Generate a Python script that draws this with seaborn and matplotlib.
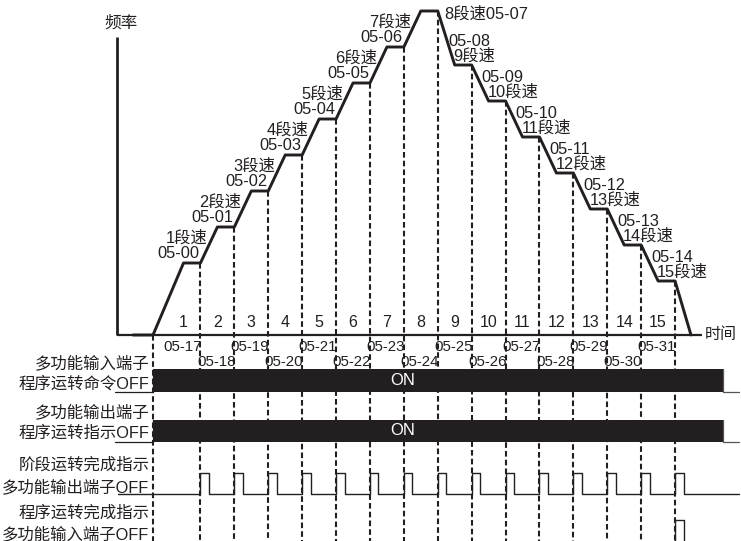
import numpy as np
import pandas as pd
import matplotlib
matplotlib.use("Agg")
import matplotlib.pyplot as plt
import seaborn as sns

sns.set_theme(style="white")
plt.rcParams['font.family'] = ['Liberation Sans', 'Noto Sans CJK SC', 'DejaVu Sans']

# ---------------- data ----------------
segments = list(range(1, 16))
seg_duration = [1.4] + [1.0] * 14          # duration of each speed segment
step_freq = [2, 3, 4, 5, 6, 7, 8, 9, 7.5, 6.5, 5.5, 4.5, 3.5, 2.5, 1.5]
hold_time = 0.5                             # constant-speed part of each segment
curve_start = -0.59
curve_stop = 15.87
freq_params = ['05-%02d' % i for i in range(0, 15)]
time_params = ['05-%02d' % i for i in range(17, 32)]
speed_labels = ['%d段速' % k for k in segments]
run_end = 16.8                              # end of program run command / indication
pulse_width = 0.25
row_labels = [('多功能输入端子', '程序运转命令OFF'),
              ('多功能输出端子', '程序运转指示OFF'),
              ('阶段运转完成指示', '多功能输出端子OFF'),
              ('程序运转完成指示', '多功能输入端子OFF')]

# ---------------- derived ----------------
bounds = np.concatenate([[0.0], np.cumsum(seg_duration)])
cx = [curve_start, 0.0]
cy = [0.0, 0.0]
for k in range(15):
    cx += [bounds[k + 1] - hold_time, bounds[k + 1]]
    cy += [step_freq[k], step_freq[k]]
cx.append(curve_stop)
cy.append(0.0)
curve = pd.DataFrame({'t': cx, 'f': cy})

INK = '#231f20'
PX_X, PX_Y = 33.9, 36.0
fig = plt.figure(figsize=(7.41, 5.41), dpi=100)
ax = fig.add_axes([0, 0, 1, 1])
xmin, xmax = -153 / PX_X, (741 - 153) / PX_X
ymin, ymax = (335 - 541) / PX_Y, 335 / PX_Y
ax.set_xlim(xmin, xmax)
ax.set_ylim(ymin, ymax)
ax.axis('off')

# axes of the frequency chart
ax.plot([-1.06, -1.06], [0, 8.28], color=INK, lw=2.0, solid_capstyle='butt')
ax.plot([-1.06, 16.19], [0, 0], color=INK, lw=1.6, solid_capstyle='butt')
ax.text(-0.95, 8.67, '频率', ha='center', va='center', fontsize=12, color=INK)
ax.text(16.28, 0.0, '时间', ha='left', va='center', fontsize=11.5, color=INK)

# frequency curve
sns.lineplot(data=curve, x='t', y='f', sort=False, estimator=None, color=INK,
             linewidth=2.1, ax=ax, legend=False)

# dashed guides
levels = [0.0] + step_freq
for b, lv in zip(bounds, levels):
    ax.plot([b, b], [lv, ymin], color=INK, lw=1.5, linestyle=(0, (2.7, 1.5)), zorder=1)

# segment numbers and time parameters
for k in range(15):
    ax.text(bounds[k + 1] - 0.5, 0.36, str(segments[k]), ha='center', va='center',
            fontsize=11.5, color=INK)
    yy = -0.333 if k % 2 == 0 else -0.75
    ax.text(bounds[k + 1] + 0.03, yy, time_params[k], ha='right', va='center',
            fontsize=10.8, color=INK)

# speed labels
for k in range(15):
    lv = step_freq[k]
    if k < 7:
        ax.text(bounds[k + 1] - 0.03, lv + 0.25, freq_params[k], ha='right', va='center',
                fontsize=11.8, color=INK)
        ax.text(bounds[k + 1] + 0.2, lv + 0.69, speed_labels[k], ha='right', va='center',
                fontsize=11.8, color=INK)
    elif k == 7:
        ax.text(bounds[k + 1] + 0.2, lv - 0.08, speed_labels[k] + freq_params[k],
                ha='left', va='center', fontsize=11.8, color=INK)
    else:
        ax.text(bounds[k] + 0.3, lv + 0.64, freq_params[k], ha='left', va='center',
                fontsize=11.8, color=INK)
        ax.text(bounds[k] + 0.47, lv + 0.25, speed_labels[k], ha='left', va='center',
                fontsize=11.8, color=INK)

# timing rows
row_low = [(335 - 391.5) / PX_Y, (335 - 441.5) / PX_Y, (335 - 494) / PX_Y, (335 - 546) / PX_Y]
row_high = [(335 - 369) / PX_Y, (335 - 420) / PX_Y, (335 - 472.5) / PX_Y, (335 - 519.5) / PX_Y]
lab1_y = [(335 - 363) / PX_Y, (335 - 412) / PX_Y, (335 - 465) / PX_Y, (335 - 513) / PX_Y]
lab2_y = [(335 - 384) / PX_Y, (335 - 433) / PX_Y, (335 - 487) / PX_Y, (335 - 534) / PX_Y]
line_start = [-1.12, -1.12, -1.03]
line_end = 17.29

for r in range(4):
    ax.text(-0.1, lab1_y[r], row_labels[r][0], ha='right', va='center', fontsize=11.8, color=INK)
    ax.text(-0.12, lab2_y[r], row_labels[r][1], ha='right', va='center', fontsize=11.8, color=INK)

for r in range(2):
    ax.fill_between([0, run_end], row_low[r], row_high[r], color=INK, lw=0, zorder=3)
    ax.plot([line_start[r], 0, 0], [row_low[r], row_low[r], row_high[r]], color=INK, lw=0.9, zorder=3)
    ax.plot([run_end, run_end, line_end], [row_high[r], row_low[r], row_low[r]],
            color='#555555', lw=0.9, zorder=3)
    ax.text(7.37, (row_low[r] + row_high[r]) / 2, 'ON', ha='center', va='center',
            fontsize=12, color='white', zorder=4)

# stage complete pulses
px, py = [line_start[2]], [row_low[2]]
for b in bounds[1:]:
    px += [b, b, b + pulse_width, b + pulse_width]
    py += [row_low[2], row_high[2], row_high[2], row_low[2]]
px.append(line_end)
py.append(row_low[2])
sns.lineplot(x=px, y=py, sort=False, estimator=None, color=INK, linewidth=1.0, ax=ax, legend=False)

# program complete pulse
b = bounds[-1]
sns.lineplot(x=[b, b, b + pulse_width, b + pulse_width],
             y=[row_low[3], row_high[3], row_high[3], row_low[3]],
             sort=False, estimator=None, color=INK, linewidth=1.0, ax=ax, legend=False)

fig.savefig('out.png', dpi=100)
